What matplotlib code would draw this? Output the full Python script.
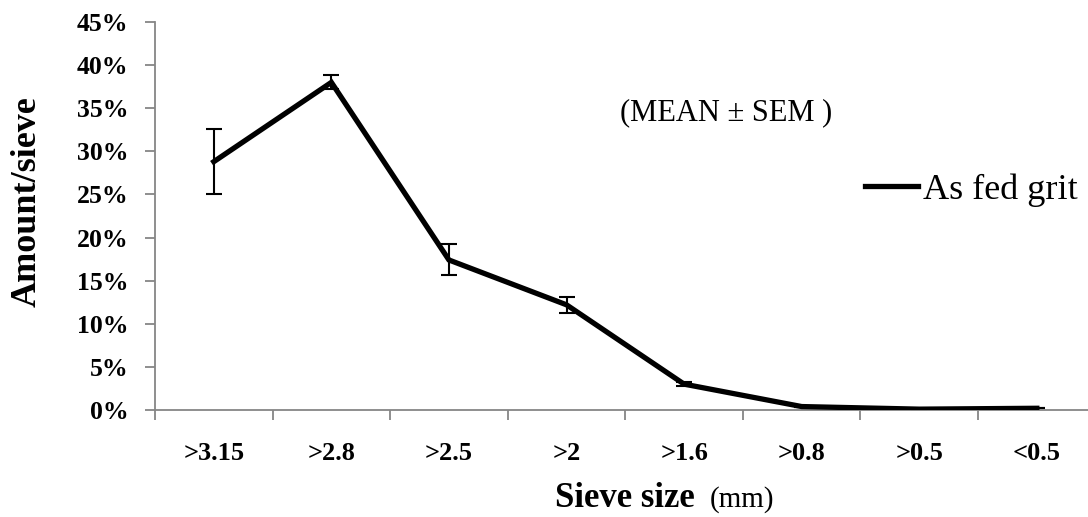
import matplotlib
matplotlib.use("Agg")
import matplotlib.pyplot as plt
import numpy as np

# Sieve fractions and the share of grit retained on each (mean, SEM)
sieves = [">3.15", ">2.8", ">2.5", ">2", ">1.6", ">0.8", ">0.5", "<0.5"]
mean_pct = [28.8, 38.0, 17.4, 12.2, 3.0, 0.4, 0.1, 0.2]
sem_pct = [3.8, 0.8, 1.8, 0.9, 0.2, 0.0, 0.0, 0.0]
y_ticks = list(range(0, 50, 5))

plt.rcParams["font.family"] = ["Liberation Serif", "DejaVu Serif"]

W, H = 1088, 517
fig = plt.figure(figsize=(W / 100, H / 100), dpi=100)
ax = fig.add_axes([155 / W, 1 - 410 / H, (1095.6 - 155) / W, (410 - 22) / H])

x = np.arange(len(sieves))
ax.plot(x, mean_pct, color="black", lw=3.8, solid_joinstyle="miter",
        label="As fed grit", zorder=3)
ax.errorbar(x, mean_pct, yerr=sem_pct, fmt="none", ecolor="black",
            elinewidth=1.5, capsize=6, capthick=1.5, zorder=2)

ax.set_xlim(-0.5, len(sieves) - 0.5)
ax.set_ylim(0, 45)

ax.set_yticks(y_ticks)
ax.set_yticklabels([f"{v}%" for v in y_ticks], fontsize=18.5, fontweight="bold")
ax.set_xticks(x)
ax.set_xticklabels(sieves, fontsize=19, fontweight="bold")
ax.set_xticks(np.arange(-0.5, len(sieves), 1.0), minor=True)

grey = "#868686"
for side in ("top", "right"):
    ax.spines[side].set_visible(False)
for side in ("left", "bottom"):
    ax.spines[side].set_color(grey)
    ax.spines[side].set_linewidth(1.3)

ax.tick_params(axis="y", which="major", direction="out", length=7, width=1.3,
               color=grey, pad=12)
ax.tick_params(axis="x", which="major", length=0, pad=23)
ax.tick_params(axis="x", which="minor", direction="out", length=7, width=1.3,
               color=grey)

# axis titles
fig.text(27 / W, 1 - 202 / H, "Amount/sieve", fontsize=26, fontweight="bold",
         rotation=90, ha="center", va="center")
fig.text(555 / W, 1 - 507 / H, "Sieve size", fontsize=25, fontweight="bold",
         ha="left", va="baseline")
fig.text(710 / W, 1 - 507 / H, "(mm)", fontsize=21, ha="left", va="baseline")

fig.text(620 / W, 1 - 120 / H, "(MEAN ± SEM )", fontsize=22, va="baseline")

leg = ax.legend(loc="center left", bbox_to_anchor=(865 / W, 1 - 190 / H),
                bbox_transform=fig.transFigure, frameon=False, fontsize=26,
                handlelength=1.47, handletextpad=0.14, borderaxespad=0,
                borderpad=0)

fig.savefig("out.png", dpi=100)
